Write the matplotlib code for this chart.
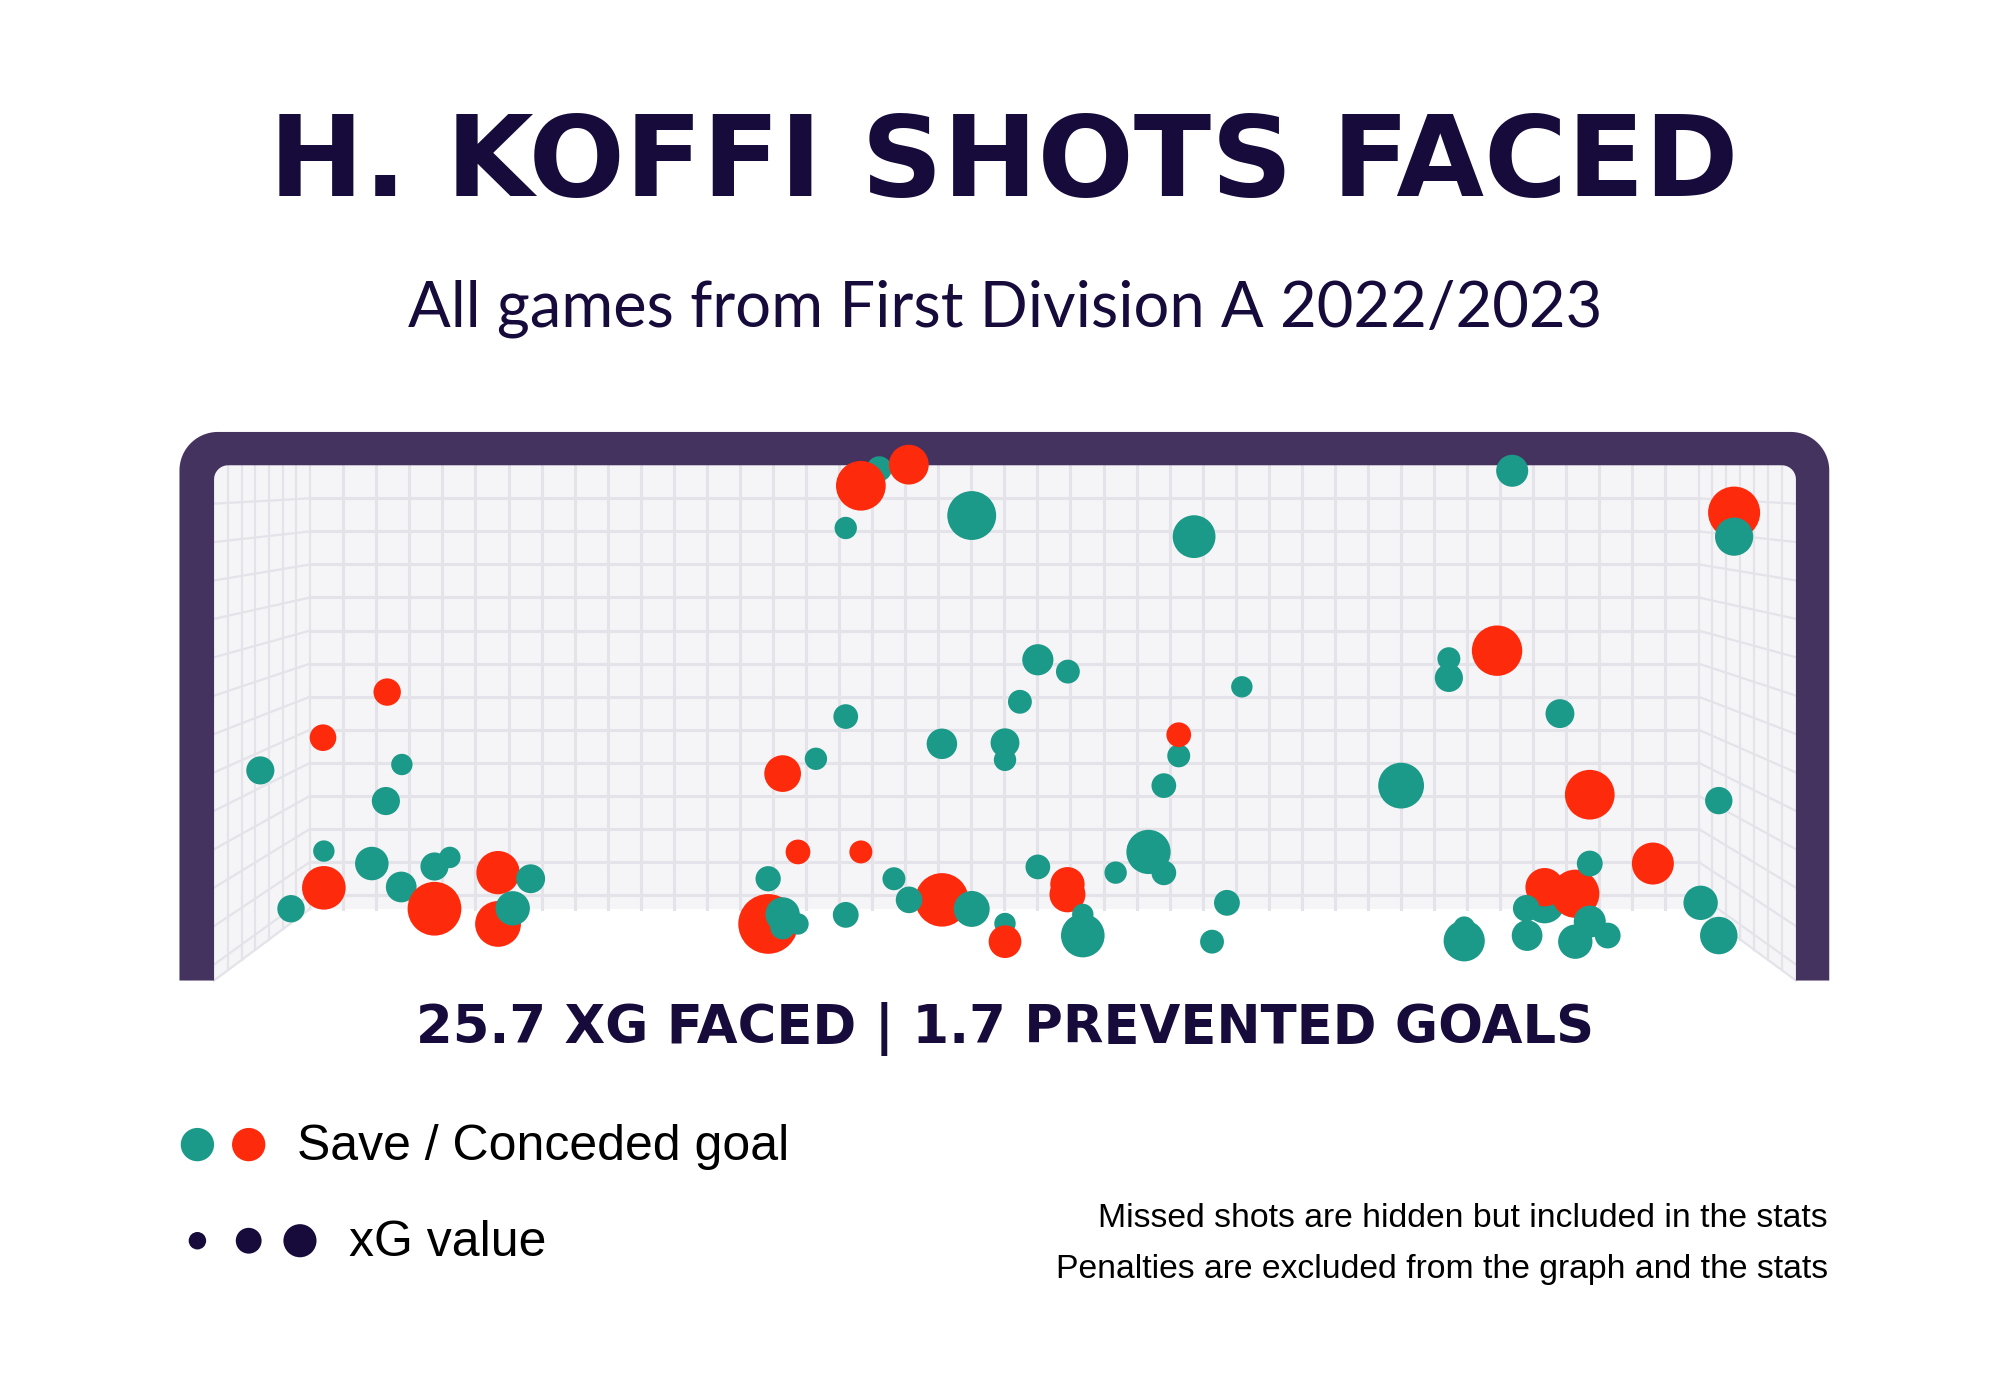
import numpy as np
import matplotlib
matplotlib.use("Agg")
import matplotlib.pyplot as plt
from matplotlib.patches import Polygon, Rectangle

# shots on target, goal-mouth coordinates in metres (x across, y height), xG, goal flag
# drawn in this order (later shots sit on top)
shot_x = [3.078, 0.866, 3.660, 4.464, 6.157,
          0.504, 0.801, 0.508, 1.020, 1.314, 1.314,
          2.993, 3.215, 4.464, 2.631, 2.702, 2.993, 3.949, 3.949, 3.368, 2.564, 3.660,
          7.034, 5.937, 6.366, 6.658, 6.157, 6.299,
          0.214, 0.869, 0.795, 0.508, 0.356, 0.730, 1.020, 1.091, 1.382, 1.465,
          2.923, 3.506, 4.535, 3.812, 3.951, 4.756, 3.729, 2.923, 3.368, 3.660, 3.660,
          4.395, 2.785, 2.564, 4.395, 4.324, 4.172, 3.812, 3.146, 3.216, 3.506, 2.923,
          2.631, 2.631, 2.702, 4.020, 4.020, 4.687, 4.618,
          6.007, 7.034, 5.714, 5.714, 6.228, 5.493, 6.963, 6.366, 6.072, 6.366, 6.449,
          6.299, 6.076, 5.785, 5.785, 6.879, 6.963]
shot_y = [2.423, 0.443, 0.270, 1.064, 0.365,
          1.150, 1.366, 0.439, 0.340, 0.511, 0.268,
          2.343, 2.443, 1.164, 0.980, 0.609, 0.609, 0.456, 0.408, 0.382, 0.268, 0.184,
          2.216, 1.562, 0.880, 0.554, 0.442, 0.411,
          0.995, 1.023, 0.850, 0.613, 0.340, 0.554, 0.540, 0.583, 0.342, 0.482,
          2.143, 2.202, 2.102, 1.519, 1.463, 1.391, 1.320, 1.250, 1.121, 1.045, 1.126,
          0.923, 1.050, 0.482, 0.510, 0.609, 0.511, 0.538, 0.482, 0.382, 0.339, 0.311,
          0.313, 0.253, 0.268, 0.313, 0.213, 0.368, 0.184,
          2.414, 2.102, 1.524, 1.433, 1.264, 0.923, 0.852, 0.554, 0.342, 0.279, 0.213,
          0.184, 0.213, 0.253, 0.188, 0.368, 0.213]
shot_xg = [0.046, 0.068, 0.033, 0.038, 0.114,
           0.051, 0.054, 0.137, 0.208, 0.135, 0.151,
           0.178, 0.114, 0.044, 0.097, 0.044, 0.038, 0.085, 0.093, 0.206, 0.257, 0.077,
           0.195, 0.183, 0.178, 0.127, 0.106, 0.167,
           0.057, 0.033, 0.057, 0.033, 0.054, 0.081, 0.057, 0.033, 0.085, 0.060,
           0.036, 0.172, 0.132, 0.070, 0.041, 0.033, 0.041, 0.044, 0.067, 0.036, 0.060,
           0.044, 0.036, 0.046, 0.044, 0.141, 0.036, 0.044, 0.038, 0.051, 0.093, 0.048,
           0.085, 0.044, 0.033, 0.033, 0.137, 0.048, 0.041,
           0.074, 0.105, 0.038, 0.057, 0.060, 0.151, 0.054, 0.048, 0.051, 0.074, 0.048,
           0.085, 0.068, 0.033, 0.122, 0.085, 0.101]
shot_goal = [0, 0, 0, 0, 0,
             1, 1, 1, 1, 1, 1,
             1, 1, 1, 1, 1, 1, 1, 1, 1, 1, 1,
             1, 1, 1, 1, 1, 1] + [0] * 56

legend_xg = [0.022, 0.048, 0.079]
legend_col_xg = 0.08

title = "H. KOFFI SHOTS FACED"
subtitle = "All games from First Division A 2022/2023"
stats = "25.7 XG FACED | 1.7 PREVENTED GOALS"
notes = ["Missed shots are hidden but included in the stats",
         "Penalties are excluded from the graph and the stats"]

TEAL = "#1b9a89"
RED = "#fe2a0c"
FRAME = "#45335f"
DARK = "#170b3b"
NET_BG = "#f5f5f7"
NET_LINE = "#e4e3e9"

GOAL_W, GOAL_H = 7.32, 2.44


def size(xg):
    return 7200 * np.asarray(xg)


fig = plt.figure(figsize=(20.10, 13.83), dpi=100)
fig.patch.set_facecolor("white")

# background axes in reference-layout units (1568 x 1079, y down)
bg = fig.add_axes([0, 0, 1, 1])
bg.set_xlim(0, 1568)
bg.set_ylim(1079, 0)
bg.axis("off")

# goal geometry (layout units)
oL, oR, oT, bot = 140, 1427, 337, 765
iL, iR, iT = 167, 1401, 363
bL, bR, bB = 242, 1325, 709

# back wall + side nets
bg.add_patch(Rectangle((bL, iT), bR - bL, bB - iT, fc=NET_BG, ec="none", zorder=1))
bg.add_patch(Polygon([(iL, iT), (bL, iT), (bL, bB), (iL, bot)], fc=NET_BG, ec="none", zorder=1))
bg.add_patch(Polygon([(bR, iT), (iR, iT), (iR, bot), (bR, bB)], fc=NET_BG, ec="none", zorder=1))

cell = (bR - bL) / 42
for k in range(1, 42):
    x = bL + k * cell
    bg.plot([x, x], [iT, bB], color=NET_LINE, lw=2.2, zorder=2)
rows = [iT + k * cell for k in range(1, 14)] + [bB]
for y in rows:
    if y < bB:
        bg.plot([bL, bR], [y, y], color=NET_LINE, lw=2.2, zorder=2)
    yf = iT + (y - iT) * (bot - iT) / (bB - iT)
    bg.plot([iL, bL], [yf, y], color=NET_LINE, lw=1.6, zorder=2)
    bg.plot([iR, bR], [yf, y], color=NET_LINE, lw=1.6, zorder=2)
for k in range(1, 8):
    t = k / 7
    xl = iL + t * (bL - iL)
    xr = iR - t * (iR - bR)
    yb = bot - t * (bot - bB)
    bg.plot([xl, xl], [iT, yb], color=NET_LINE, lw=1.6, zorder=2)
    bg.plot([xr, xr], [iT, yb], color=NET_LINE, lw=1.6, zorder=2)


def arc(cx, cy, r, a0, a1, n=24):
    t = np.radians(np.linspace(a0, a1, n))
    return list(zip(cx + r * np.cos(t), cy - r * np.sin(t)))


R, r = 30, 11
pts = [(oL, bot)]
pts += arc(oL + R, oT + R, R, 180, 90)
pts += arc(oR - R, oT + R, R, 90, 0)
pts += [(oR, bot), (iR, bot)]
pts += arc(iR - r, iT + r, r, 0, 90)
pts += arc(iL + r, iT + r, r, 90, 180)
pts += [(iL, bot)]
bg.add_patch(Polygon(pts, closed=True, fc=FRAME, ec="none", zorder=3))

# shots
ax = fig.add_axes([iL / 1568, 1 - bot / 1079, (iR - iL) / 1568, (bot - iT) / 1079])
ax.set_xlim(0, GOAL_W)
ax.set_ylim(0, GOAL_H)
ax.axis("off")
ax.patch.set_alpha(0)
cols = [RED if g else TEAL for g in shot_goal]
ax.scatter(shot_x, shot_y, s=size(shot_xg), c=cols, linewidths=0, clip_on=False, zorder=5)

# texts
bg.text(783, 153, title, ha="center", va="baseline", fontsize=81.5,
        fontweight="bold", color=DARK, family="DejaVu Sans")
bg.text(784, 255, subtitle, ha="center", va="baseline", fontsize=45.5,
        color=DARK, family="Lato")
bg.text(784, 814, stats, ha="center", va="baseline", fontsize=38,
        fontweight="bold", color=DARK, family="DejaVu Sans")

# legend
bg.scatter([154, 194], [893, 893], s=size([legend_col_xg] * 2), c=[TEAL, RED], linewidths=0, zorder=5)
bg.text(232, 905, "Save / Conceded goal", ha="left", va="baseline", fontsize=36,
        color="black", family="Liberation Sans")
bg.scatter([154, 194, 234], [968, 968, 968], s=size(legend_xg), c=DARK, linewidths=0, zorder=5)
bg.text(272, 980, "xG value", ha="left", va="baseline", fontsize=36,
        color="black", family="Liberation Sans")

bg.text(1426, 957, notes[0], ha="right", va="baseline", fontsize=24.3, color="black",
        family="Liberation Sans")
bg.text(1426, 997, notes[1], ha="right", va="baseline", fontsize=24.3, color="black",
        family="Liberation Sans")

fig.savefig("out.png", dpi=100)
